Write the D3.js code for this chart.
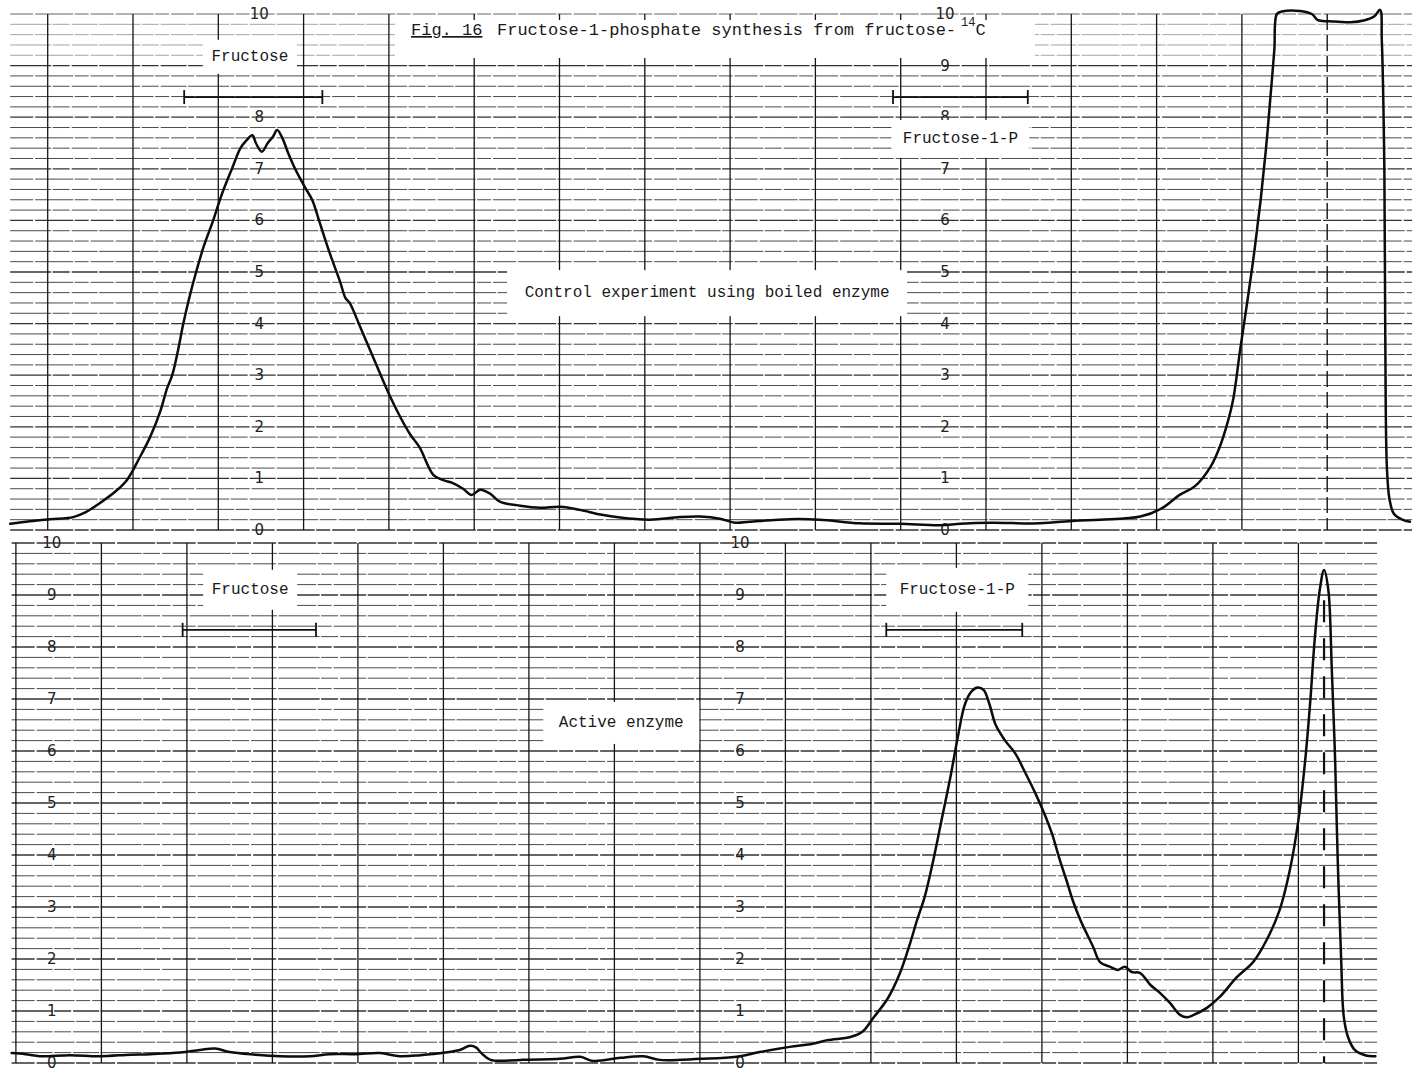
<!DOCTYPE html>
<html>
<head>
<meta charset="utf-8">
<script src="https://cdn.jsdelivr.net/npm/d3@7"></script>
<style>
  body { margin: 0; background: #fff; }
  svg { display: block; }
</style>
</head>
<body>
<svg id="chart" width="1412" height="1071"></svg>
<script>
// ---- Data -------------------------------------------------------------
// Recorder scale readings (0-10) printed on the chart paper.
const scaleTicks = [0, 1, 2, 3, 4, 5, 6, 7, 8, 9, 10];
// the "9" of the first scale on the control strip sits under the Fructose label
const controlFirstScaleTicks = [0, 1, 2, 3, 4, 5, 6, 7, 8, 10];

// Radioactivity trace, control run with boiled enzyme.
// Each point: [chart division, scale reading].
const controlTrace = [
  [-0.44, 0.12], [-0.21, 0.17], [0.03, 0.21], [0.30, 0.25], [0.44, 0.34],
  [0.61, 0.52], [0.79, 0.74], [0.93, 0.97], [1.08, 1.41], [1.20, 1.80],
  [1.32, 2.30], [1.40, 2.75], [1.46, 3.00], [1.53, 3.50], [1.59, 4.00],
  [1.66, 4.50], [1.74, 5.00], [1.83, 5.50], [1.94, 6.00], [2.04, 6.50],
  [2.16, 7.00], [2.26, 7.40], [2.33, 7.55], [2.40, 7.65],
  [2.44, 7.50], [2.51, 7.33], [2.58, 7.50], [2.64, 7.62], [2.69, 7.75],
  [2.75, 7.60], [2.82, 7.30], [2.90, 7.00], [2.98, 6.75], [3.03, 6.60],
  [3.10, 6.40], [3.19, 5.95], [3.31, 5.35], [3.43, 4.80], [3.49, 4.50],
  [3.54, 4.40], [3.66, 3.95], [3.84, 3.25], [4.01, 2.60], [4.13, 2.20],
  [4.25, 1.85], [4.36, 1.60], [4.52, 1.07], [4.63, 0.97], [4.75, 0.91],
  [4.87, 0.80], [4.97, 0.68], [5.07, 0.78], [5.19, 0.70], [5.30, 0.55],
  [5.54, 0.47], [5.77, 0.43], [6.01, 0.45], [6.24, 0.39], [6.48, 0.30],
  [6.71, 0.24], [7.06, 0.20], [7.41, 0.25], [7.65, 0.26], [7.88, 0.22],
  [8.06, 0.14], [8.23, 0.16], [8.70, 0.21], [9.05, 0.20], [9.52, 0.13],
  [9.99, 0.12], [10.46, 0.09], [10.70, 0.12], [11.05, 0.14], [11.63, 0.13],
  [12.04, 0.18], [12.34, 0.20], [12.81, 0.26], [13.06, 0.42], [13.27, 0.68],
  [13.45, 0.85], [13.63, 1.22], [13.74, 1.61], [13.84, 2.13], [13.90, 2.55],
  [13.98, 3.50], [14.07, 4.50], [14.15, 5.45], [14.22, 6.40], [14.28, 7.35],
  [14.33, 8.30], [14.38, 9.30], [14.41, 10.00], [14.47, 10.05], [14.68, 10.06],
  [14.82, 10.00], [14.89, 9.88], [15.03, 9.86], [15.27, 9.84], [15.44, 9.88],
  [15.55, 9.95], [15.62, 10.08], [15.64, 9.50], [15.67, 7.00], [15.68, 4.00],
  [15.70, 1.20], [15.73, 0.60], [15.78, 0.32], [15.88, 0.20], [15.97, 0.16]
];

// Radioactivity trace, run with active enzyme.
const activeTrace = [
  [-0.05, 0.19], [0.11, 0.17], [0.28, 0.13], [0.63, 0.15], [0.98, 0.13],
  [1.34, 0.16], [1.57, 0.17], [1.92, 0.20], [2.15, 0.25], [2.33, 0.28],
  [2.50, 0.21], [2.80, 0.16], [3.09, 0.13], [3.44, 0.13], [3.67, 0.17],
  [3.97, 0.17], [4.26, 0.19], [4.49, 0.13], [4.73, 0.15], [5.02, 0.20],
  [5.19, 0.25], [5.31, 0.33], [5.38, 0.30], [5.45, 0.18], [5.55, 0.06],
  [5.90, 0.06], [6.36, 0.08], [6.60, 0.12], [6.75, 0.04], [7.07, 0.10],
  [7.34, 0.13], [7.53, 0.06], [8.00, 0.08], [8.43, 0.12], [8.70, 0.21],
  [9.05, 0.31], [9.32, 0.37], [9.49, 0.44], [9.76, 0.50], [9.90, 0.60],
  [10.02, 0.85], [10.20, 1.25], [10.34, 1.73], [10.46, 2.31], [10.54, 2.75],
  [10.63, 3.20], [10.73, 3.90], [10.83, 4.70], [10.93, 5.50], [11.02, 6.30],
  [11.10, 6.90], [11.18, 7.15], [11.25, 7.22], [11.32, 7.17], [11.39, 6.88],
  [11.46, 6.50], [11.57, 6.20], [11.69, 5.95], [11.80, 5.60], [11.92, 5.20],
  [12.04, 4.75], [12.12, 4.40], [12.21, 3.90], [12.29, 3.50], [12.36, 3.13],
  [12.45, 2.75], [12.60, 2.23], [12.68, 1.94], [12.80, 1.85], [12.89, 1.79],
  [12.97, 1.85], [13.05, 1.75], [13.15, 1.73], [13.27, 1.50], [13.38, 1.35],
  [13.50, 1.15], [13.62, 0.92], [13.70, 0.88], [13.77, 0.92], [13.93, 1.06],
  [14.08, 1.27], [14.28, 1.65], [14.47, 1.94], [14.63, 2.37], [14.78, 2.94],
  [14.90, 3.71], [15.00, 4.67], [15.08, 5.83], [15.14, 6.98], [15.19, 8.13],
  [15.25, 9.10], [15.30, 9.48], [15.35, 9.10], [15.39, 7.60], [15.43, 5.80],
  [15.46, 3.90], [15.50, 2.00], [15.53, 0.90], [15.58, 0.50], [15.66, 0.25],
  [15.78, 0.15], [15.90, 0.13]
];

// Chromatogram zones: [label, start division, end division]
const controlZones = [["Fructose", 1.60, 3.22], ["Fructose-1-P", 9.91, 11.49]];
const activeZones  = [["Fructose", 1.95, 3.51], ["Fructose-1-P", 10.18, 11.77]];

// ---- Layout -----------------------------------------------------------
const svg = d3.select("#chart");
svg.append("rect").attr("width", 1412).attr("height", 1071).attr("fill", "#fff");

const MONO = "'Liberation Mono', 'DejaVu Sans Mono', monospace";

const panels = [
  {
    name: "control",
    x: d3.scaleLinear().domain([0, 15]).range([47.7, 1327.2]),
    y: d3.scaleLinear().domain([0, 10]).range([530, 14]),
    xExtent: [-0.44, 16.0],
    columns: d3.range(0, 15),
    dashedColumns: [15],
    labelColumns: [{ d: 2.48, ticks: controlFirstScaleTicks }, { d: 10.52, ticks: scaleTicks }],
    trace: controlTrace,
    zones: controlZones,
    zoneLevel: 8.39,
    zoneLabels: [
      { text: "Fructose", d: 2.37, v: 9.17, w: 94, h: 34 },
      { text: "Fructose-1-P", d: 10.70, v: 7.58, w: 138, h: 38 },
      { text: "Control experiment using boiled enzyme", d: 7.73, v: 4.59, w: 400, h: 46 }
    ],
    fadeAbove: 9
  },
  {
    name: "active",
    x: d3.scaleLinear().domain([0, 15]).range([15.9, 1298.4]),
    y: d3.scaleLinear().domain([0, 10]).range([1063, 543]),
    xExtent: [-0.05, 15.92],
    columns: d3.range(0, 16),
    dashedColumns: [],
    labelColumns: [{ d: 0.42, ticks: scaleTicks }, { d: 8.47, ticks: scaleTicks }],
    trace: activeTrace,
    zones: activeZones,
    zoneLevel: 8.33,
    zoneLabels: [
      { text: "Fructose", d: 2.74, v: 9.10, w: 94, h: 40 },
      { text: "Fructose-1-P", d: 11.01, v: 9.10, w: 142, h: 44 },
      { text: "Active enzyme", d: 7.08, v: 6.54, w: 156, h: 42 }
    ],
    fadeAbove: 10
  }
];

function drawPanel(p) {
  const g = svg.append("g").attr("class", "panel-" + p.name);
  const x0 = p.x(p.xExtent[0]), x1 = p.x(p.xExtent[1]);

  // horizontal chart-paper rulings every 0.2 of scale
  const rulings = d3.range(0, 51).map(i => i / 5);
  g.append("g").selectAll("line").data(rulings).join("line")
    .attr("x1", x0).attr("x2", x1)
    .attr("y1", v => p.y(v)).attr("y2", v => p.y(v))
    .attr("stroke", v => Number.isInteger(v) ? "#1e1e1e" : "#383838")
    .attr("stroke-width", v => Number.isInteger(v) ? 1.3 : 1)
    .attr("stroke-dasharray", (v, i) => i % 2 ? "41,1.5,17,2,26,1.5" : "23,2,38,1.5,14,2")
    .attr("opacity", v => v > p.fadeAbove ? 0.45 : 0.9);

  // vertical division lines
  g.append("g").selectAll("line").data(p.columns).join("line")
    .attr("x1", d => p.x(d)).attr("x2", d => p.x(d))
    .attr("y1", p.y(10)).attr("y2", p.y(0))
    .attr("stroke", "#151515").attr("stroke-width", 1.3);

  g.append("g").selectAll("line").data(p.dashedColumns).join("line")
    .attr("x1", d => p.x(d)).attr("x2", d => p.x(d))
    .attr("y1", p.y(10)).attr("y2", p.y(0))
    .attr("stroke", "#151515").attr("stroke-width", 1.4)
    .attr("stroke-dasharray", "16,5");

  // printed scale numbers
  p.labelColumns.forEach(c => {
    g.append("g").selectAll("text").data(c.ticks).join("text")
      .attr("x", p.x(c.d)).attr("y", v => p.y(v))
      .attr("text-anchor", "middle").attr("dominant-baseline", "central")
      .attr("font-family", "'DejaVu Sans', sans-serif").attr("font-size", 15)
      .attr("fill", "#222")
      .text(v => v);
  });
}

function drawOverlays(p) {
  const g = svg.append("g");
  // zone labels on cleared patches
  p.zoneLabels.forEach(l => {
    const cx = p.x(l.d), cy = p.y(l.v);
    g.append("rect").attr("x", cx - l.w / 2).attr("y", cy - l.h / 2)
      .attr("width", l.w).attr("height", l.h).attr("fill", "#fff");
    g.append("text").attr("x", cx).attr("y", cy)
      .attr("text-anchor", "middle").attr("dominant-baseline", "central")
      .attr("font-family", MONO).attr("font-size", 16).attr("fill", "#1a1a1a")
      .text(l.text);
  });
  // zone brackets
  p.zones.forEach(z => {
    const ya = p.y(p.zoneLevel);
    g.append("line").attr("x1", p.x(z[1])).attr("x2", p.x(z[2]))
      .attr("y1", ya).attr("y2", ya).attr("stroke", "#111").attr("stroke-width", 1.6);
    [z[1], z[2]].forEach(e => {
      g.append("line").attr("x1", p.x(e)).attr("x2", p.x(e))
        .attr("y1", ya - 7).attr("y2", ya + 7)
        .attr("stroke", "#111").attr("stroke-width", 1.8);
    });
  });
}

panels.forEach(drawPanel);

// cleared heading strip
svg.append("rect").attr("x", 395).attr("y", 20).attr("width", 640).attr("height", 38).attr("fill", "#fff");

panels.forEach(drawOverlays);

// marker line on the active-enzyme strip
{
  const p = panels[1];
  svg.append("line")
    .attr("x1", p.x(15.3)).attr("x2", p.x(15.3))
    .attr("y1", p.y(8.9)).attr("y2", p.y(0))
    .attr("stroke", "#111").attr("stroke-width", 2.2)
    .attr("stroke-dasharray", "22,16");
}

// traces
panels.forEach(p => {
  const line = d3.line()
    .x(d => p.x(d[0])).y(d => p.y(d[1]))
    .curve(d3.curveCatmullRom.alpha(0.5));
  svg.append("path").datum(p.trace)
    .attr("d", line)
    .attr("fill", "none").attr("stroke", "#0c0c0c")
    .attr("stroke-width", 2.5).attr("stroke-linejoin", "round").attr("stroke-linecap", "round");
});

// heading
const title = svg.append("text").attr("y", 35)
  .attr("font-family", MONO).attr("font-size", 17).attr("fill", "#1a1a1a");
title.append("tspan").attr("x", 411).attr("text-decoration", "underline").text("Fig. 16");
title.append("tspan").attr("x", 497).text("Fructose-1-phosphate synthesis from fructose-");
title.append("tspan").attr("dx", 5).attr("dy", -9).attr("font-size", 12).text("14");
title.append("tspan").attr("dy", 9).text("C");
</script>
</body>
</html>
